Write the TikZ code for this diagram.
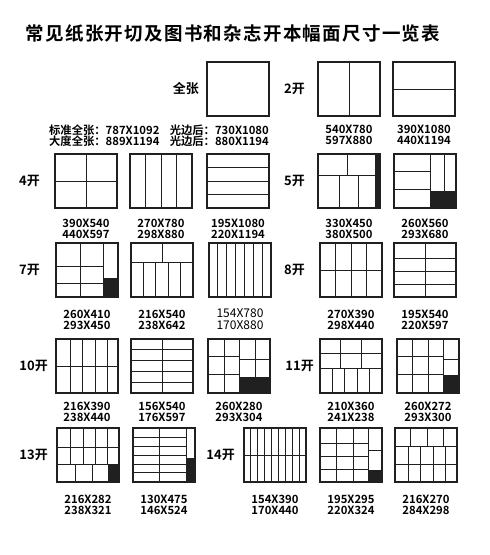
\documentclass[tikz,border=0pt]{standalone}
\usepackage{fontspec}
\setmainfont{Noto Sans CJK SC}[BoldFont={* Bold}]
\newfontfamily\titlefont{Noto Sans CJK SC}[BoldFont={* Bold},LetterSpace=7]
\usetikzlibrary{positioning}
\definecolor{Ink}{HTML}{202020}

\begin{document}
\begin{tikzpicture}[x=1pt, y=-1pt,
  sheet/.style={draw=Ink, line width=1.2pt, minimum width=62pt, minimum height=54pt,
                inner sep=0pt, outer sep=0pt, anchor=north west},
  in sheet/.style={shift={(#1.north west)}, x=62pt, y=-54pt},
  cut/.style={draw=Ink, line width=1pt},
  trim/.style={fill=Ink},
  kai/.style={font=\bfseries\fontsize{13}{14}\selectfont, inner sep=0pt},
  dims/.style={font=\bfseries\fontsize{11.3}{11}\selectfont, align=center, inner sep=0pt},
  node distance=10pt
]
  \useasboundingbox (0,0) rectangle (490,555);
  \node[font=\titlefont\bfseries\fontsize{18.5}{20}\selectfont] (title) at (233,33)
    {常见纸张开切及图书和杂志开本幅面尺寸一览表};

  % sheets
  \node[sheet] (s1)   at (207,62)  {};
  \node[sheet] (s2a)  at (318,62)  {};
  \node[sheet] (s2b)  at (393,62)  {};
  \node[sheet] (s4a)  at (55,154)  {};
  \node[sheet] (s4b)  at (130,154) {};
  \node[sheet] (s4c)  at (207,154) {};
  \node[sheet] (s5a)  at (318,154) {};
  \node[sheet] (s5b)  at (394,154) {};
  \node[sheet] (s7a)  at (56,243)  {};
  \node[sheet] (s7b)  at (131,243) {};
  \node[sheet] (s7c)  at (209,243) {};
  \node[sheet] (s8a)  at (320,243) {};
  \node[sheet] (s8b)  at (394,243) {};
  \node[sheet] (s10a) at (56,339)  {};
  \node[sheet] (s10b) at (131,339) {};
  \node[sheet] (s10c) at (208,339) {};
  \node[sheet] (s11a) at (320,339) {};
  \node[sheet] (s11b) at (397,339) {};
  \node[sheet] (s13a) at (57,428)  {};
  \node[sheet] (s13b) at (133,428) {};
  \node[sheet] (s14a) at (244,428) {};
  \node[sheet] (s14b) at (320,428) {};
  \node[sheet] (s14c) at (395,428) {};

  % cuts
  \begin{scope}[in sheet=s2a] \draw[cut] (.5,0) -- (.5,1); \end{scope}
  \begin{scope}[in sheet=s2b] \draw[cut] (0,.5) -- (1,.5); \end{scope}
  \begin{scope}[in sheet=s4a] \draw[cut] (.5,0) -- (.5,1) (0,.5) -- (1,.5); \end{scope}
  \begin{scope}[in sheet=s4b]
    \foreach \i in {.25,.5,.75} \draw[cut] (\i,0) -- (\i,1);
  \end{scope}
  \begin{scope}[in sheet=s4c]
    \foreach \i in {.25,.5,.75} \draw[cut] (0,\i) -- (1,\i);
  \end{scope}
  \begin{scope}[in sheet=s5a]
    \fill[trim] (.92,0) rectangle (1,1);
    \draw[cut] (0,.4) -- (.92,.4) (.47,0) -- (.47,.4) (.345,.4) -- (.345,1) (.655,.4) -- (.655,1);
  \end{scope}
  \begin{scope}[in sheet=s5b]
    \fill[trim] (.587,.687) rectangle (1,1);
    \draw[cut] (.587,0) -- (.587,1) (0,.33) -- (.587,.33) (0,.657) -- (.587,.657) (.82,0) -- (.82,.687);
  \end{scope}
  \begin{scope}[in sheet=s7a]
    \fill[trim] (.768,.64) rectangle (1,1);
    \draw[cut] (.4,0) -- (.4,1) (.768,0) -- (.768,1) (0,.433) -- (.768,.433) (0,.756) -- (.768,.756);
  \end{scope}
  \begin{scope}[in sheet=s7b]
    \draw[cut] (0,.354) -- (1,.354) (.5,0) -- (.5,.354);
    \foreach \i in {.2,.4,.6,.8} \draw[cut] (\i,.354) -- (\i,1);
  \end{scope}
  \begin{scope}[in sheet=s7c]
    \foreach \i in {1,...,6} \draw[cut] (\i/7,0) -- (\i/7,1);
  \end{scope}
  \begin{scope}[in sheet=s8a]
    \draw[cut] (0,.5) -- (1,.5);
    \foreach \i in {.25,.5,.75} \draw[cut] (\i,0) -- (\i,1);
  \end{scope}
  \begin{scope}[in sheet=s8b]
    \draw[cut] (.5,0) -- (.5,1);
    \foreach \i in {.28,.52,.76} \draw[cut] (0,\i) -- (1,\i);
  \end{scope}
  \begin{scope}[in sheet=s10a]
    \draw[cut] (0,.5) -- (1,.5);
    \foreach \i in {.23,.43,.63,.83} \draw[cut] (\i,0) -- (\i,1);
  \end{scope}
  \begin{scope}[in sheet=s10b]
    \draw[cut] (.5,0) -- (.5,1);
    \foreach \i in {.2,.4,.6,.8} \draw[cut] (0,\i) -- (1,\i);
  \end{scope}
  \begin{scope}[in sheet=s10c]
    \fill[trim] (.515,.695) rectangle (1,1);
    \draw[cut] (.26,0) -- (.26,1) (.515,0) -- (.515,1) (0,.33) -- (.515,.33) (0,.66) -- (.515,.66)
               (.515,.375) -- (1,.375) (.76,0) -- (.76,.695);
  \end{scope}
  \begin{scope}[in sheet=s11a]
    \draw[cut] (0,.26) -- (1,.26) (0,.54) -- (1,.54) (.333,0) -- (.333,.54) (.667,0) -- (.667,.54);
    \foreach \i in {.2,.4,.6,.8} \draw[cut] (\i,.54) -- (\i,1);
  \end{scope}
  \begin{scope}[in sheet=s11b]
    \fill[trim] (.75,.66) rectangle (1,1);
    \draw[cut] (.255,0) -- (.255,1) (.505,0) -- (.505,1) (.75,0) -- (.75,1)
               (0,.33) -- (.75,.33) (.75,.38) -- (1,.38) (0,.66) -- (.75,.66);
  \end{scope}
  \begin{scope}[in sheet=s13a]
    \fill[trim] (.835,.675) rectangle (1,1);
    \draw[cut] (0,.36) -- (1,.36) (0,.675) -- (1,.675);
    \foreach \i in {.22,.42,.615,.81} \draw[cut] (\i,0) -- (\i,.675);
    \foreach \i in {.3,.58,.835} \draw[cut] (\i,.675) -- (\i,1);
  \end{scope}
  \begin{scope}[in sheet=s13b]
    \fill[trim] (.856,.552) rectangle (1,1);
    \draw[cut] (.856,0) -- (.856,1) (.428,0) -- (.428,1);
    \foreach \i in {.17,.335,.5,.67,.83} \draw[cut] (0,\i) -- (.856,\i);
  \end{scope}
  \begin{scope}[in sheet=s14a]
    \draw[cut] (0,.5) -- (1,.5);
    \foreach \i in {1,...,8} \draw[cut] (\i/9,0) -- (\i/9,1);
  \end{scope}
  \begin{scope}[in sheet=s14b]
    \fill[trim] (.785,.776) rectangle (1,1);
    \draw[cut] (.785,0) -- (.785,1) (.263,0) -- (.263,1) (.538,0) -- (.538,1) (.785,.424) -- (1,.424);
    \foreach \i in {.29,.533,.776} \draw[cut] (0,\i) -- (.785,\i);
  \end{scope}
  \begin{scope}[in sheet=s14c]
    \draw[cut] (0,.345) -- (1,.345) (0,.667) -- (1,.667);
    \foreach \i in {.255,.52,.785} \draw[cut] (\i,0) -- (\i,.345);
    \foreach \i in {.21,.413,.617,.82} \draw[cut] (\i,.345) -- (\i,1);
  \end{scope}

  % labels
  \node[kai, left=8pt of s1]    (k1)  {全张};
  \node[kai, left=13pt of s2a]  (k2)  {2开};
  \node[kai, left=15pt of s4a]  (k4)  {4开};
  \node[kai, left=13pt of s5a]  (k5)  {5开};
  \node[kai, left=16pt of s7a]  (k7)  {7开};
  \node[kai, left=15pt of s8a]  (k8)  {8开};
  \node[kai, left=8pt of s10a]  (k10) {10开};
  \node[kai, left=6pt of s11a]  (k11) {11开};
  \node[kai, left=9pt of s13a]  (k13) {13开};
  \node[kai, left=9pt of s14a]  (k14) {14开};

  % sizes
  \node[dims, align=left, below left=9pt and 0pt of s1.south east] (d1b)
    {光边后：730X1080\\光边后：880X1194};
  \node[dims, align=left, left=10pt of d1b] (d1a)
    {标准全张：787X1092\\大度全张：889X1194};
  \node[dims, below=9pt of s2a]   (d2a)  {540X780\\597X880};
  \node[dims, below=9pt of s2b]   (d2b)  {390X1080\\440X1194};
  \node[dims, below=11pt of s4a]  (d4a)  {390X540\\440X597};
  \node[dims, below=11pt of s4b]  (d4b)  {270X780\\298X880};
  \node[dims, below=11pt of s4c]  (d4c)  {195X1080\\220X1194};
  \node[dims, below=11pt of s5a]  (d5a)  {330X450\\380X500};
  \node[dims, below=11pt of s5b]  (d5b)  {260X560\\293X680};
  \node[dims, below=13pt of s7a]  (d7a)  {260X410\\293X450};
  \node[dims, below=13pt of s7b]  (d7b)  {216X540\\238X642};
  \node[dims, font=\fontsize{12}{12}\selectfont, below=11pt of s7c] (d7c) {154X780\\170X880};
  \node[dims, below=13pt of s8a]  (d8a)  {270X390\\298X440};
  \node[dims, below=13pt of s8b]  (d8b)  {195X540\\220X597};
  \node[dims, below=9pt of s10a]  (d10a) {216X390\\238X440};
  \node[dims, below=9pt of s10b]  (d10b) {156X540\\176X597};
  \node[dims, below=9pt of s10c]  (d10c) {260X280\\293X304};
  \node[dims, below=9pt of s11a]  (d11a) {210X360\\241X238};
  \node[dims, below=9pt of s11b]  (d11b) {260X272\\293X300};
  \node[dims, below=13pt of s13a] (d13a) {216X282\\238X321};
  \node[dims, below=13pt of s13b] (d13b) {130X475\\146X524};
  \node[dims, below=13pt of s14a] (d14a) {154X390\\170X440};
  \node[dims, below=13pt of s14b] (d14b) {195X295\\220X324};
  \node[dims, below=13pt of s14c] (d14c) {216X270\\284X298};
\end{tikzpicture}
\end{document}
